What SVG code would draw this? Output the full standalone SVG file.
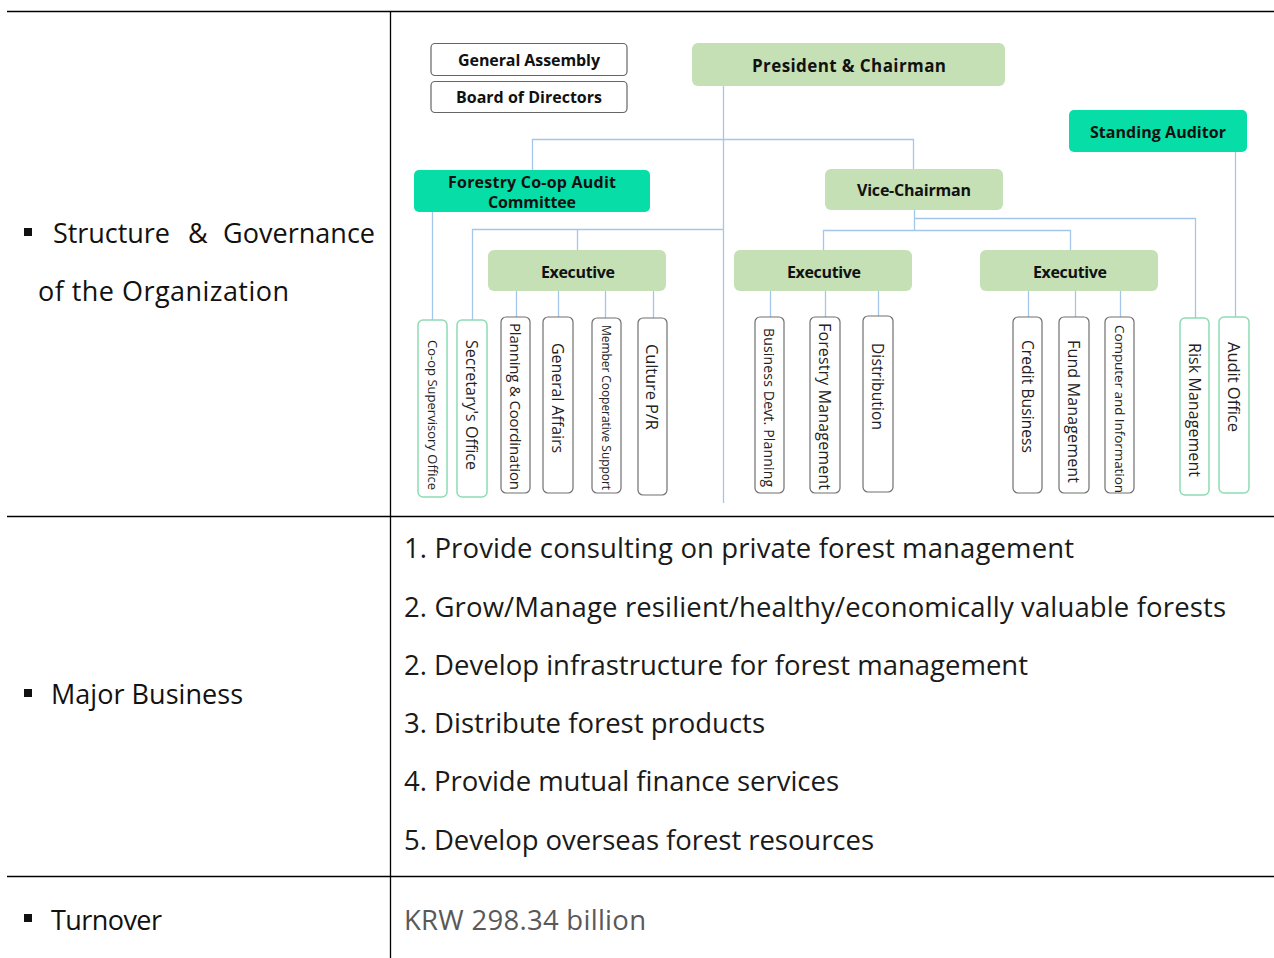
<svg xmlns="http://www.w3.org/2000/svg" width="1274" height="958" viewBox="0 0 1274 958">
<style>
.rule{stroke:#000;stroke-width:1.3;fill:none}
.lbl{font-family:"Open Sans","Noto Sans",sans-serif;fill:#111}
.big{font-size:27px}
.item{font-size:27.5px;fill:#1a1a1a}
.con{stroke:#a4c6ea;stroke-width:1.3;fill:none}
.wbox{fill:#fff;stroke:#666;stroke-width:1.2}
.gbox{fill:#c5e0b4;stroke:none}
.tbox{fill:#07dea7;stroke:none}
.vbox{fill:#fff;stroke:#707070;stroke-width:1.2}
.vgbox{fill:#fff;stroke:#8fdcb4;stroke-width:1.5}
.bt{font-family:"Open Sans","Noto Sans",sans-serif;font-weight:bold;fill:#111;text-anchor:middle;dominant-baseline:central}
.vt{font-family:"Open Sans","Noto Sans",sans-serif;fill:#222;dominant-baseline:central}
</style>
<rect width="1274" height="958" fill="#fff"/>
<g id="table">
<line class="rule" x1="7" y1="11.5" x2="1274" y2="11.5"/>
<line class="rule" x1="7" y1="516.5" x2="1274" y2="516.5"/>
<line class="rule" x1="7" y1="876.5" x2="1274" y2="876.5"/>
<line class="rule" x1="390.5" y1="11" x2="390.5" y2="958"/>
<rect x="24" y="228" width="8" height="8" fill="#111"/>
<text class="lbl big" y="243"><tspan x="53" textLength="117">Structure</tspan><tspan x="188">&amp;</tspan><tspan x="223" textLength="152">Governance</tspan></text>
<text class="lbl big" x="38" y="301" textLength="251">of the Organization</text>
<rect x="24" y="689" width="8" height="8" fill="#111"/>
<text class="lbl big" x="51" y="704" textLength="192">Major Business</text>
<rect x="24" y="914" width="8" height="8" fill="#111"/>
<text class="lbl big" x="51" y="930" textLength="111">Turnover</text>
<text class="lbl item" x="404" y="558" textLength="670">1. Provide consulting on private forest management</text>
<text class="lbl item" x="404" y="617" textLength="822">2. Grow/Manage resilient/healthy/economically valuable forests</text>
<text class="lbl item" x="404" y="675" textLength="624">2. Develop infrastructure for forest management</text>
<text class="lbl item" x="404" y="733" textLength="361">3. Distribute forest products</text>
<text class="lbl item" x="404" y="791" textLength="435">4. Provide mutual finance services</text>
<text class="lbl item" x="404" y="850" textLength="470">5. Develop overseas forest resources</text>
<text class="lbl item" x="404" y="930" textLength="242" style="fill:#595959">KRW 298.34 billion</text>
</g>
<g id="connectors">
<path class="con" d="M723.5 86 V503"/>
<path class="con" d="M532.5 170 V139.5 H913.5 V169"/>
<path class="con" d="M472.5 320 V229.5 H723.5"/>
<path class="con" d="M577.5 229.5 V250"/>
<path class="con" d="M432.5 212 V320"/>
<path class="con" d="M914.5 210 V230.5"/>
<path class="con" d="M914.5 218.5 H1195.5 V318"/>
<path class="con" d="M823.5 250 V230.5 H1070.5 V250"/>
<path class="con" d="M1235.5 152 V317"/>
<path class="con" d="M516.5 291 V317 M558.5 291 V317 M605.5 291 V318 M653.5 291 V318"/>
<path class="con" d="M770.5 291 V317 M825.5 291 V317 M878.5 291 V316"/>
<path class="con" d="M1028.5 291 V317 M1075.5 291 V317 M1120.5 291 V317"/>
</g>
<g id="general-assembly"><rect class="wbox" x="431" y="43.5" width="196" height="32" rx="4"/><text class="bt" x="529" y="60" font-size="16" textLength="142">General Assembly</text></g>
<g id="board-of-directors"><rect class="wbox" x="431" y="81.5" width="196" height="31" rx="4"/><text class="bt" x="529" y="97" font-size="16" textLength="146">Board of Directors</text></g>
<g id="president"><rect class="gbox" x="692" y="43" width="313" height="43" rx="6"/><text class="bt" x="849" y="65" font-size="17" textLength="194">President &amp; Chairman</text></g>
<g id="standing-auditor"><rect class="tbox" x="1069" y="110" width="178" height="42" rx="5"/><text class="bt" x="1158" y="132" font-size="16" textLength="136">Standing Auditor</text></g>
<g id="audit-committee"><rect class="tbox" x="414" y="170" width="236" height="42" rx="5"/><text class="bt" x="532" y="182" font-size="16" textLength="168">Forestry Co-op Audit</text><text class="bt" x="532" y="202" font-size="16" textLength="88">Committee</text></g>
<g id="vice-chairman"><rect class="gbox" x="825" y="169" width="178" height="41" rx="6"/><text class="bt" x="914" y="190" font-size="16" textLength="114">Vice-Chairman</text></g>
<g id="executive-1"><rect class="gbox" x="488" y="250" width="178" height="41" rx="6"/><text class="bt" x="578" y="272" font-size="16" textLength="74">Executive</text></g>
<g id="executive-2"><rect class="gbox" x="734" y="250" width="178" height="41" rx="6"/><text class="bt" x="824" y="272" font-size="16" textLength="74">Executive</text></g>
<g id="executive-3"><rect class="gbox" x="980" y="250" width="178" height="41" rx="6"/><text class="bt" x="1070" y="272" font-size="16" textLength="74">Executive</text></g>
<g id="coop-supervisory"><rect class="vgbox" x="418" y="320" width="29" height="177" rx="5"/><text class="vt" font-size="13" textLength="150" transform="translate(432.5,340) rotate(90)">Co-op Supervisory Office</text></g>
<g id="secretary"><rect class="vgbox" x="457" y="320" width="30" height="177" rx="5"/><text class="vt" font-size="16" textLength="130" transform="translate(472,340) rotate(90)">Secretary's Office</text></g>
<g id="planning"><rect class="vbox" x="501" y="317" width="29" height="176" rx="5"/><text class="vt" font-size="15" textLength="167" transform="translate(515.5,323) rotate(90)">Planning &amp; Coordination</text></g>
<g id="general-affairs"><rect class="vbox" x="543" y="317" width="30" height="176" rx="5"/><text class="vt" font-size="16" textLength="110" transform="translate(558,343) rotate(90)">General Affairs</text></g>
<g id="member-support"><rect class="vbox" x="592" y="318" width="29" height="175" rx="5"/><text class="vt" font-size="12" textLength="165" transform="translate(606.5,325) rotate(90)">Member Cooperative Support</text></g>
<g id="culture"><rect class="vbox" x="638" y="318" width="29" height="177" rx="5"/><text class="vt" font-size="16.5" textLength="86" transform="translate(652.5,344) rotate(90)">Culture P/R</text></g>
<g id="business-devt"><rect class="vbox" x="755" y="317" width="29" height="176" rx="5"/><text class="vt" font-size="14" textLength="159" transform="translate(769.5,328) rotate(90)">Business Devt. Planning</text><path d="M765 393 l0.8 2 l-0.8 2 l0.8 2 l-0.8 2 l0.8 2 l-0.8 2 l0.8 2 l-0.8 2 l0.8 2" stroke="#e06666" stroke-width="0.8" fill="none"/></g>
<g id="forestry-mgmt"><rect class="vbox" x="810" y="317" width="30" height="176" rx="5"/><text class="vt" font-size="16" textLength="167" transform="translate(825,323) rotate(90)">Forestry Management</text></g>
<g id="distribution"><rect class="vbox" x="863" y="316" width="30" height="176" rx="5"/><text class="vt" font-size="15.5" textLength="87" transform="translate(878,343) rotate(90)">Distribution</text></g>
<g id="credit"><rect class="vbox" x="1013" y="317" width="29" height="176" rx="5"/><text class="vt" font-size="15.5" textLength="113" transform="translate(1027.5,340) rotate(90)">Credit Business</text></g>
<g id="fund-mgmt"><rect class="vbox" x="1059" y="317" width="30" height="176" rx="5"/><text class="vt" font-size="16" textLength="143" transform="translate(1074,340) rotate(90)">Fund Management</text></g>
<g id="computer"><rect class="vbox" x="1105" y="317" width="29" height="176" rx="5"/><text class="vt" font-size="13.5" textLength="168" transform="translate(1119.5,325) rotate(90)">Computer and Information</text></g>
<g id="risk-mgmt"><rect class="vgbox" x="1180" y="318" width="29" height="177" rx="5"/><text class="vt" font-size="16" textLength="134" transform="translate(1194.5,343) rotate(90)">Risk Management</text></g>
<g id="audit-office"><rect class="vgbox" x="1219" y="317" width="30" height="176" rx="5"/><text class="vt" font-size="16.5" textLength="90" transform="translate(1234,342) rotate(90)">Audit Office</text></g>
</svg>
